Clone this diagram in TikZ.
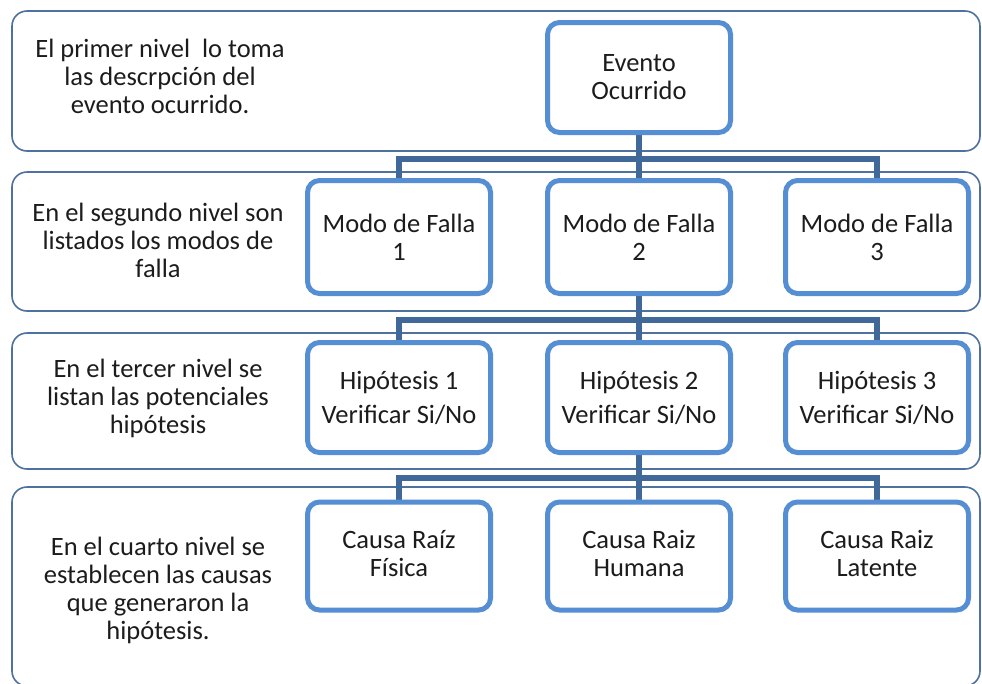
\documentclass[tikz,border=0pt]{standalone}
\usepackage{fontspec}
\setmainfont{Carlito}
\usetikzlibrary{positioning}
\definecolor{boxblue}{RGB}{86,142,212}
\definecolor{linkblue}{RGB}{64,104,152}
\definecolor{bandline}{RGB}{78,114,160}
\definecolor{txt}{RGB}{28,28,28}
\pgfdeclarelayer{bands}
\pgfdeclarelayer{links}
\pgfsetlayers{bands,links,main}
\begin{document}
\begin{tikzpicture}[x=1pt,y=-1pt,
  every node/.style={font=\fontsize{26.5}{28}\selectfont, text=txt},
  stage/.style={draw=boxblue, line width=5pt, rounded corners=12pt, fill=white,
    minimum width=183pt, align=center, inner sep=0pt},
  band/.style={draw=bandline, line width=1.6pt, rounded corners=15pt, fill=white},
  note/.style={align=center, inner sep=0pt},
  conn/.style={draw=linkblue, line width=5.5pt}]
\useasboundingbox (0,0) rectangle (982,683);

% level bands
\begin{pgfonlayer}{bands}
\path[band] (12,11) rectangle (980,151);
\path[band] (12,172) rectangle (980,311);
\path[band] (12,333) rectangle (980,469);
\path[band] (12,487) rectangle (980,686);
\end{pgfonlayer}

% level descriptions
\node[note] (n1) at (160,76) {El primer nivel\ \ lo toma\\las descrpción del\\evento ocurrido.};
\node[note] (n2) at (158,240) {En el segundo nivel son\\listados los modos de\\falla};
\node[note] (n3) at (158,398) {En el tercer nivel se\\listan las potenciales\\hipótesis};
\node[note] (n4) at (158,590) {En el cuarto nivel se\\establecen las causas\\que generaron la\\hipótesis.};

% tree nodes
\node[stage, minimum height=110pt] (ev) at (639,77.5) {Evento\\Ocurrido};

\node[stage, minimum height=113pt] (m1) at (399,237) {Modo de Falla\\1};
\node[stage, minimum height=113pt] (m2) at (639,237) {Modo de Falla\\2};
\node[stage, minimum height=113pt] (m3) at (877,237) {Modo de Falla\\3};

\node[stage, minimum height=110pt] (h1) at (399,397.5) {Hipótesis 1\\[6pt]Verificar Si/No};
\node[stage, minimum height=110pt] (h2) at (639,397.5) {Hipótesis 2\\[6pt]Verificar Si/No};
\node[stage, minimum height=110pt] (h3) at (877,397.5) {Hipótesis 3\\[6pt]Verificar Si/No};

\node[stage, minimum height=108pt] (c1) at (399,556) {Causa Raíz\\Física\\[-22pt]};
\node[stage, minimum height=108pt] (c2) at (639,556) {Causa Raiz\\Humana\\[-22pt]};
\node[stage, minimum height=108pt] (c3) at (877,556) {Causa Raiz\\Latente\\[-22pt]};

% connectors
\coordinate (j1) at (639,159);
\coordinate (j2) at (639,320);
\coordinate (j3) at (639,478);
\begin{pgfonlayer}{links}
\draw[conn] (ev.center) -- (j1);
\draw[conn] (j1) -| (m1.center);
\draw[conn] (j1) -| (m3.center);
\draw[conn] (j1) -- (m2.center);
\draw[conn] (m2.center) -- (j2);
\draw[conn] (j2) -| (h1.center);
\draw[conn] (j2) -| (h3.center);
\draw[conn] (j2) -- (h2.center);
\draw[conn] (h2.center) -- (j3);
\draw[conn] (j3) -| (c1.center);
\draw[conn] (j3) -| (c3.center);
\draw[conn] (j3) -- (c2.center);
\end{pgfonlayer}
\end{tikzpicture}
\end{document}
